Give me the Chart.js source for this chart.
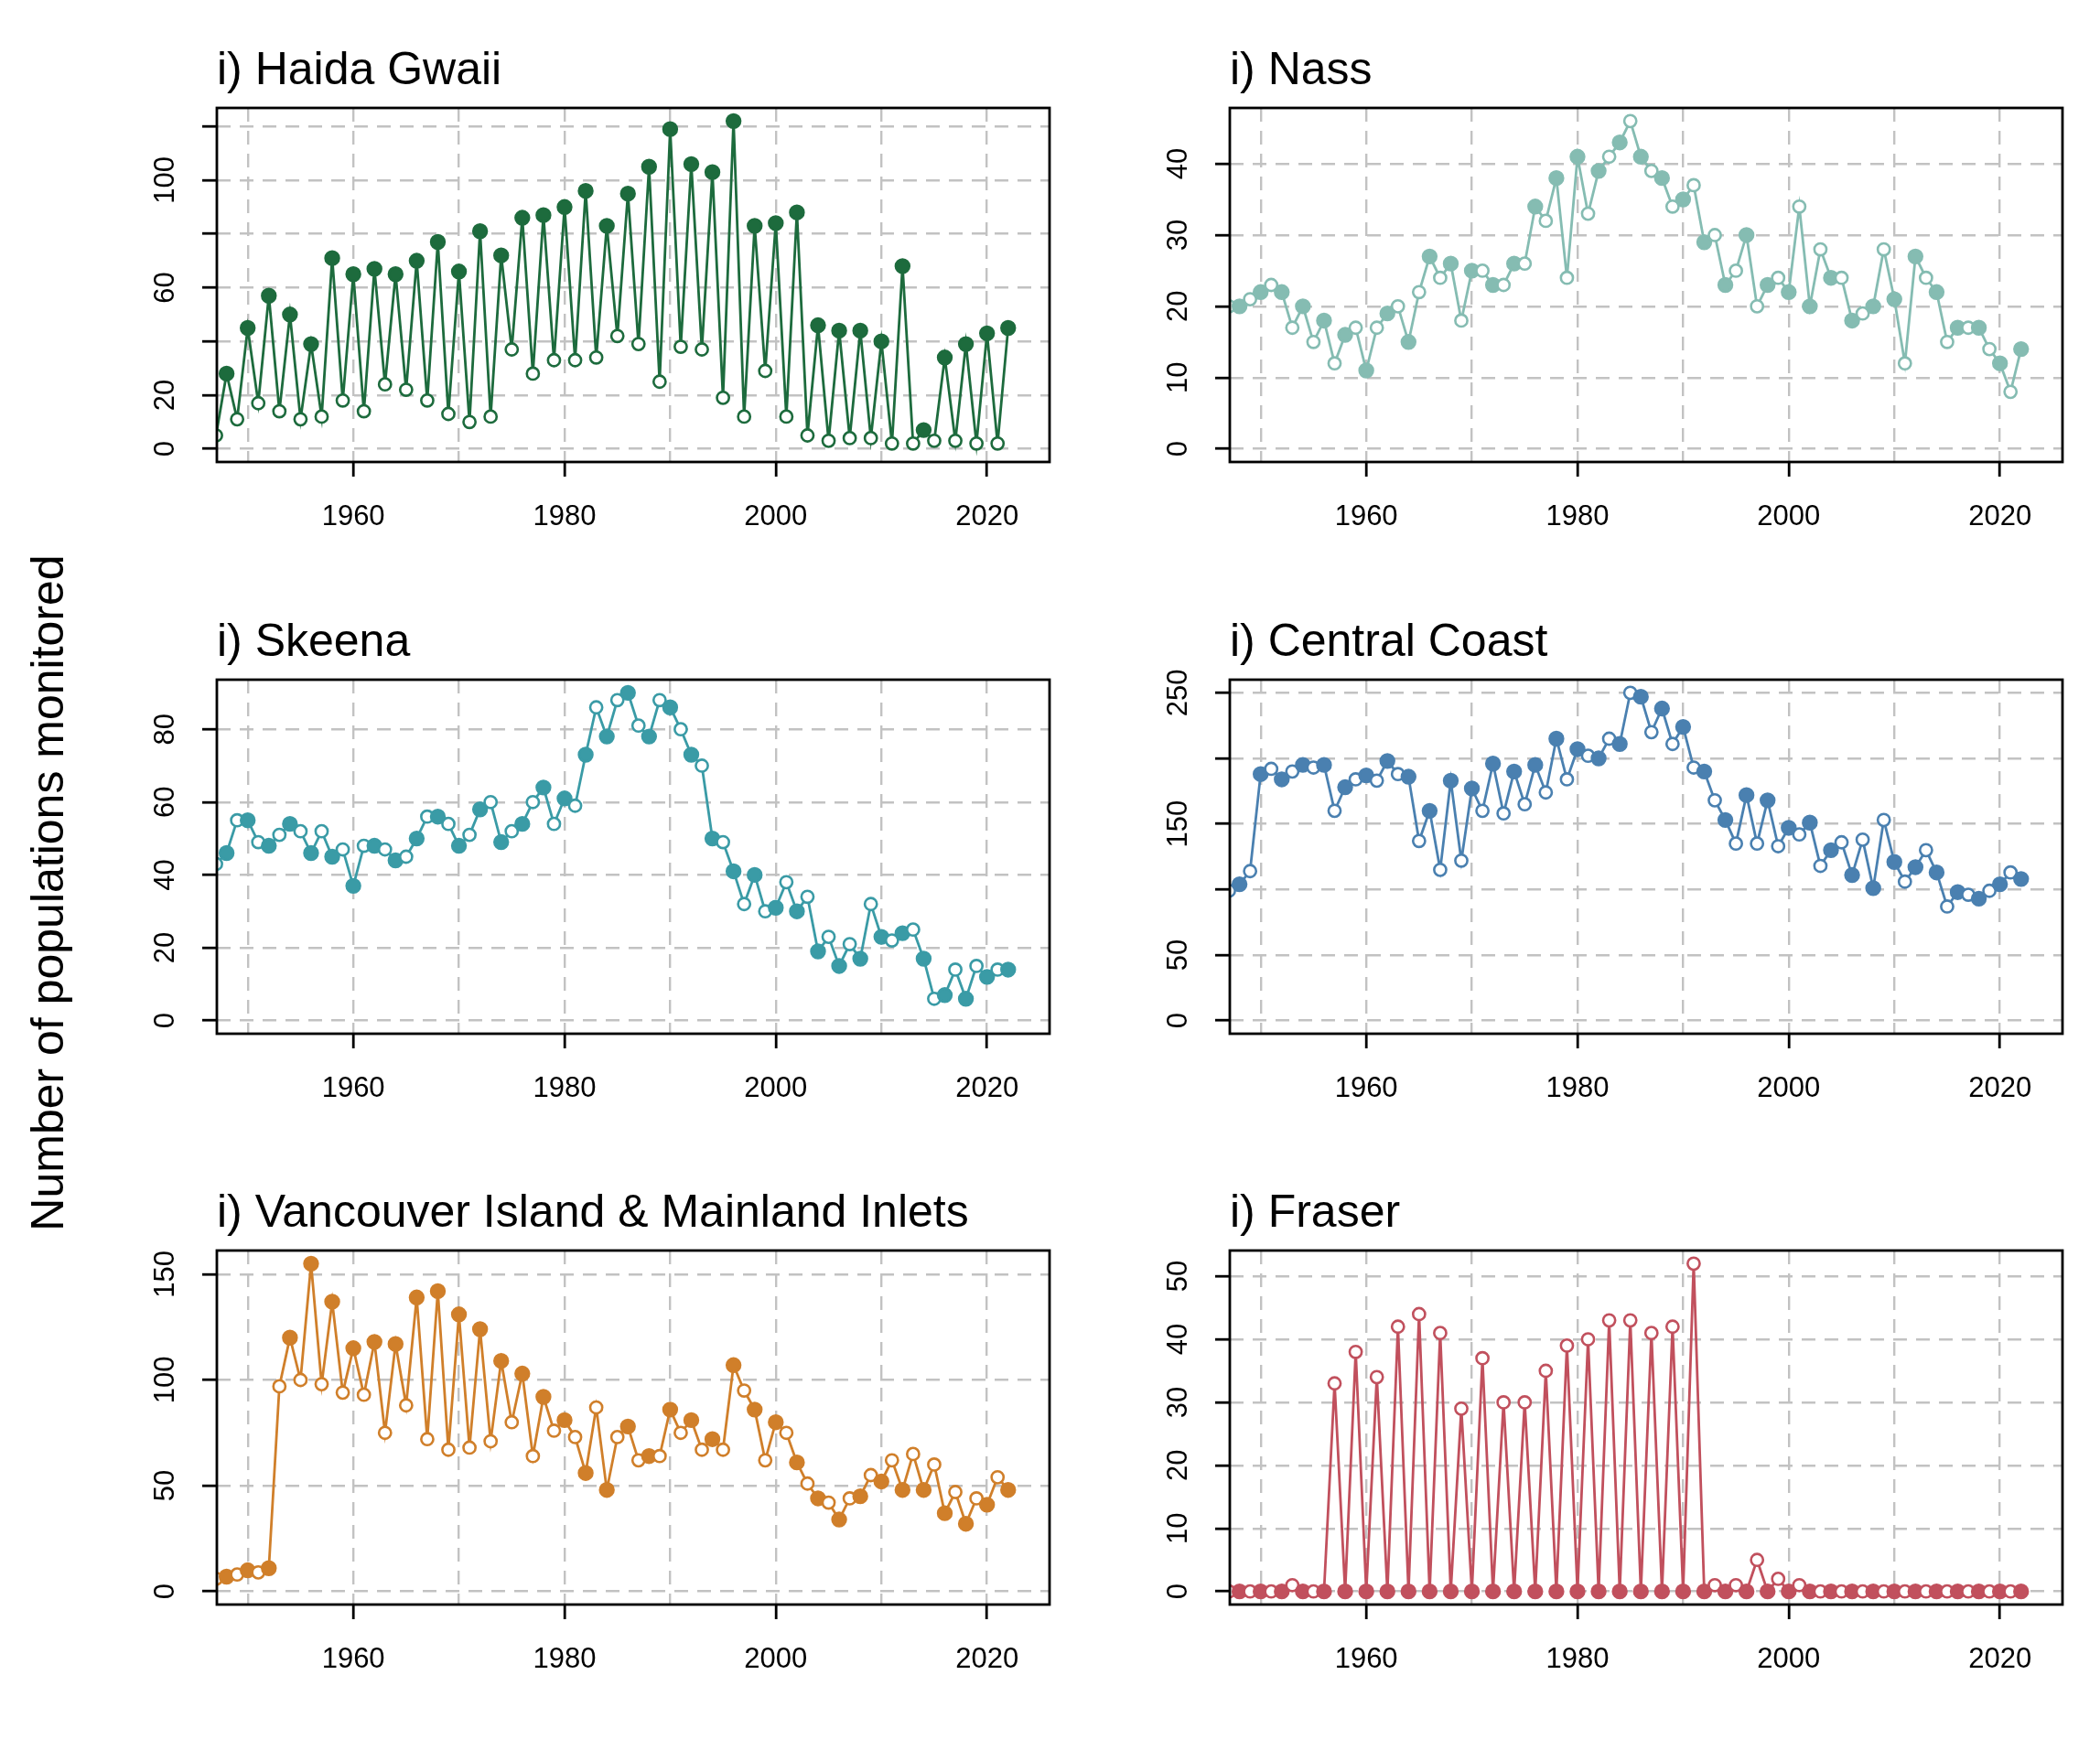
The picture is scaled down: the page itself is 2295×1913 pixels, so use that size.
<!DOCTYPE html>
<html lang="en">

<head>
    <meta charset="UTF-8">
    <script src="https://cdn.jsdelivr.net/npm/chart.js@4"></script>
    <title>Number of populations monitored</title>
    <style>
        body {
            margin: 0;
            background: #fff;
            width: 2295px;
            height: 1913px;
            position: relative;
            overflow: hidden;
            font-family: "Liberation Sans", Arial, sans-serif;
        }

        canvas {
            position: absolute;
        }

        .ylab {
            position: absolute;
            left: 52px;
            top: 976px;
            font-size: 50px;
            line-height: 1;
            white-space: nowrap;
            transform: translate(-50%, -50%) rotate(-90deg);
        }
    </style>
</head>

<body>

    <div class="ylab">Number of populations monitored</div>

    <canvas id="c1" width="1055" height="592"></canvas>
    <canvas id="c2" width="1055" height="592"></canvas>
    <canvas id="c3" width="1055" height="592"></canvas>
    <canvas id="c4" width="1055" height="592"></canvas>
    <canvas id="c5" width="1055" height="592"></canvas>
    <canvas id="c6" width="1055" height="592"></canvas>

</body>

</html>

<script>

    // data, one value per year
    var years = [1947, 1948, 1949, 1950, 1951, 1952, 1953, 1954, 1955, 1956,
        1957, 1958, 1959, 1960, 1961, 1962, 1963, 1964, 1965, 1966,
        1967, 1968, 1969, 1970, 1971, 1972, 1973, 1974, 1975, 1976,
        1977, 1978, 1979, 1980, 1981, 1982, 1983, 1984, 1985, 1986,
        1987, 1988, 1989, 1990, 1991, 1992, 1993, 1994, 1995, 1996,
        1997, 1998, 1999, 2000, 2001, 2002, 2003, 2004, 2005, 2006,
        2007, 2008, 2009, 2010, 2011, 2012, 2013, 2014, 2015, 2016,
        2017, 2018, 2019, 2020, 2021, 2022];

    var haidaGwaii = [5, 28, 11, 45, 17, 57, 14, 50, 11, 39,
        12, 71, 18, 65, 14, 67, 24, 65, 22, 70,
        18, 77, 13, 66, 10, 81, 12, 72, 37, 86,
        28, 87, 33, 90, 33, 96, 34, 83, 42, 95,
        39, 105, 25, 119, 38, 106, 37, 103, 19, 122,
        12, 83, 29, 84, 12, 88, 5, 46, 3, 44,
        4, 44, 4, 40, 2, 68, 2, 7, 3, 34,
        3, 39, 2, 43, 2, 45];

    var nass = [20, 20, 21, 22, 23, 22, 17, 20, 15, 18,
        12, 16, 17, 11, 17, 19, 20, 15, 22, 27,
        24, 26, 18, 25, 25, 23, 23, 26, 26, 34,
        32, 38, 24, 41, 33, 39, 41, 43, 46, 41,
        39, 38, 34, 35, 37, 29, 30, 23, 25, 30,
        20, 23, 24, 22, 34, 20, 28, 24, 24, 18,
        19, 20, 28, 21, 12, 27, 24, 22, 15, 17,
        17, 17, 14, 12, 8, 14];

    var skeena = [43, 46, 55, 55, 49, 48, 51, 54, 52, 46,
        52, 45, 47, 37, 48, 48, 47, 44, 45, 50,
        56, 56, 54, 48, 51, 58, 60, 49, 52, 54,
        60, 64, 54, 61, 59, 73, 86, 78, 88, 90,
        81, 78, 88, 86, 80, 73, 70, 50, 49, 41,
        32, 40, 30, 31, 38, 30, 34, 19, 23, 15,
        21, 17, 32, 23, 22, 24, 25, 17, 6, 7,
        14, 6, 15, 12, 14, 14];

    var centralCoast = [99, 104, 114, 188, 192, 184, 190, 195, 193, 195,
        160, 178, 184, 187, 183, 198, 188, 186, 137, 160,
        115, 183, 122, 177, 160, 196, 158, 190, 165, 195,
        174, 215, 184, 207, 202, 200, 215, 211, 250, 247,
        220, 238, 211, 224, 193, 190, 168, 153, 135, 172,
        135, 168, 133, 147, 142, 151, 118, 130, 136, 111,
        138, 101, 153, 121, 106, 117, 130, 113, 87, 98,
        96, 93, 99, 104, 113, 108];

    var vancouverIsland = [6, 7, 8, 10, 9, 11, 97, 120, 100, 155,
        98, 137, 94, 115, 93, 118, 75, 117, 88, 139,
        72, 142, 67, 131, 68, 124, 71, 109, 80, 103,
        64, 92, 76, 81, 73, 56, 87, 48, 73, 78,
        62, 64, 64, 86, 75, 81, 67, 72, 67, 107,
        95, 86, 62, 80, 75, 61, 51, 44, 42, 34,
        44, 45, 55, 52, 62, 48, 65, 48, 60, 37,
        47, 32, 44, 41, 54, 48];

    var fraser = [0, 0, 0, 0, 0, 0, 1, 0, 0, 0,
        33, 0, 38, 0, 34, 0, 42, 0, 44, 0,
        41, 0, 29, 0, 37, 0, 30, 0, 30, 0,
        35, 0, 39, 0, 40, 0, 43, 0, 43, 0,
        41, 0, 42, 0, 52, 0, 1, 0, 1, 0,
        5, 0, 2, 0, 1, 0, 0, 0, 0, 0,
        0, 0, 0, 0, 0, 0, 0, 0, 0, 0,
        0, 0, 0, 0, 0, 0];

    // tick labels
    var yearLabels = [1960, 1980, 2000, 2020];
    var haidaLabels = [0, 20, 60, 100];
    var nassLabels = [0, 10, 20, 30, 40];
    var skeenaLabels = [0, 20, 40, 60, 80];
    var centralLabels = [0, 50, 150, 250];
    var vancouverLabels = [0, 50, 100, 150];
    var fraserLabels = [0, 10, 20, 30, 40, 50];

    var FONT = '"Liberation Sans", Arial, sans-serif';
    var GRID = '#c2c2c2';
    var DASH = [15, 10];

    var panels = [
        { id: 'c1', title: 'i) Haida Gwaii', data: haidaGwaii, step: 20, labels: haidaLabels, color: '#1d6b3d', left: 237, top: 118 },
        { id: 'c2', title: 'i) Nass', data: nass, step: 10, labels: nassLabels, color: '#85bcb2', left: 1344, top: 118 },
        { id: 'c3', title: 'i) Skeena', data: skeena, step: 20, labels: skeenaLabels, color: '#3a9ba6', left: 237, top: 743 },
        { id: 'c4', title: 'i) Central Coast', data: centralCoast, step: 50, labels: centralLabels, color: '#4a80b0', left: 1344, top: 743 },
        { id: 'c5', title: 'i) Vancouver Island & Mainland Inlets', data: vancouverIsland, step: 50, labels: vancouverLabels, color: '#d07f2a', left: 237, top: 1367 },
        { id: 'c6', title: 'i) Fraser', data: fraser, step: 10, labels: fraserLabels, color: '#c1505d', left: 1344, top: 1367 }
    ];

    // box, panel title and rotated y labels
    function decor(title, labels) {
        return {
            id: 'decor',
            afterDraw: function (chart) {
                var ctx = chart.ctx;
                var a = chart.chartArea;
                var ys = chart.scales.y;
                ctx.save();
                ctx.setLineDash([]);
                ctx.strokeStyle = '#000';
                ctx.lineWidth = 2.8;
                ctx.strokeRect(a.left, a.top, a.right - a.left, a.bottom - a.top);

                ctx.fillStyle = '#000';
                ctx.font = '50px ' + FONT;
                ctx.textAlign = 'left';
                ctx.textBaseline = 'alphabetic';
                ctx.fillText(title, a.left, a.top - 26);

                ctx.font = '31px ' + FONT;
                ctx.textAlign = 'center';
                ctx.textBaseline = 'middle';
                labels.forEach(function (v) {
                    ctx.save();
                    ctx.translate(a.left - 56, ys.getPixelForValue(v));
                    ctx.rotate(-Math.PI / 2);
                    ctx.fillText(String(v), 0, 0);
                    ctx.restore();
                });
                ctx.restore();
            }
        };
    }

    panels.forEach(function (p) {
        var cv = document.getElementById(p.id);
        cv.style.left = (p.left - 130) + 'px';
        cv.style.top = (p.top - 110) + 'px';

        // R style limits: 0 .. max, plus 4 %
        var hi = Math.max.apply(null, p.data);
        var pad = hi * 0.04;

        new Chart(cv, {
            type: 'line',
            data: {
                datasets: [{
                    data: years.map(function (y, i) { return { x: y, y: p.data[i] }; }),
                    borderColor: p.color,
                    borderWidth: 2.8,
                    tension: 0,
                    clip: 0,
                    pointRadius: years.map(function (y) { return y % 2 === 0 ? 7.4 : 6.6; }),
                    pointBorderWidth: 2.6,
                    pointBorderColor: p.color,
                    pointBackgroundColor: years.map(function (y) { return y % 2 === 0 ? p.color : '#ffffff'; })
                }]
            },
            options: {
                responsive: false,
                animation: false,
                devicePixelRatio: 1,
                layout: { padding: { left: 0, right: 15, top: 110, bottom: 0 }, autoPadding: false },
                plugins: {
                    legend: { display: false },
                    tooltip: { enabled: false }
                },
                scales: {
                    x: {
                        type: 'linear',
                        min: 1947.08,
                        max: 2025.92,
                        afterFit: function (s) { s.height = 95; },
                        ticks: {
                            stepSize: 10,
                            includeBounds: false,
                            autoSkip: false,
                            maxRotation: 0,
                            padding: 26,
                            color: '#000',
                            font: { family: FONT, size: 31 },
                            callback: function (v) { return yearLabels.indexOf(v) >= 0 ? String(v) : ''; }
                        },
                        grid: {
                            color: GRID,
                            lineWidth: 2.4,
                            tickLength: 16,
                            tickWidth: 2.8,
                            tickBorderDash: [],
                            tickColor: function (c) { return c.tick && yearLabels.indexOf(c.tick.value) >= 0 ? '#000' : 'rgba(0,0,0,0)'; }
                        },
                        border: { display: false, dash: DASH }
                    },
                    y: {
                        type: 'linear',
                        min: -pad,
                        max: hi + pad,
                        afterFit: function (s) { s.width = 130; },
                        ticks: {
                            stepSize: p.step,
                            includeBounds: false,
                            display: false
                        },
                        grid: {
                            color: GRID,
                            lineWidth: 2.4,
                            tickLength: 16,
                            tickWidth: 2.8,
                            tickBorderDash: [],
                            tickColor: '#000'
                        },
                        border: { display: false, dash: DASH }
                    }
                }
            },
            plugins: [decor(p.title, p.labels)]
        });
    });

</script>
